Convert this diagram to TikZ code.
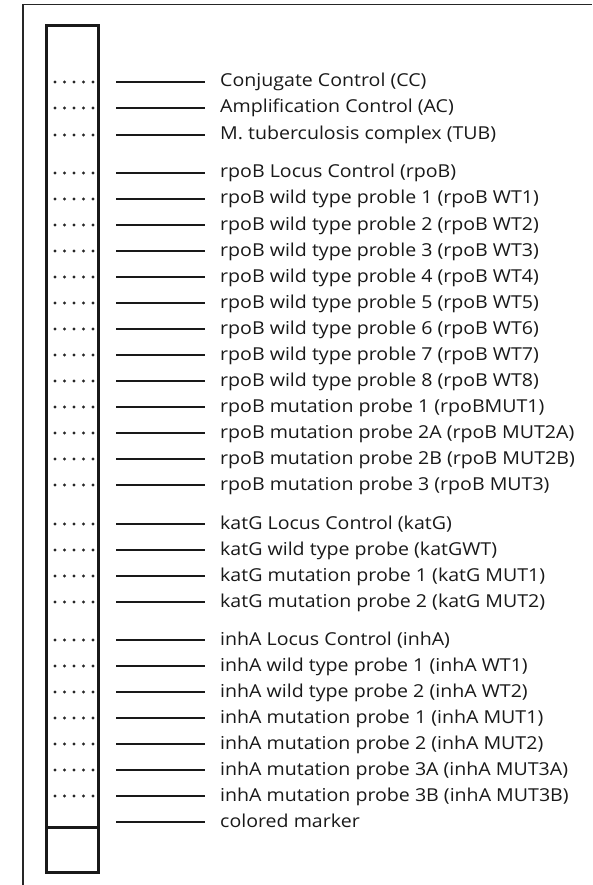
\documentclass[tikz,border=0pt]{standalone}
\usepackage{fontspec}
\setmainfont[FakeStretch=1.1]{Open Sans}
\begin{document}
\begin{tikzpicture}[x=1pt,y=-1pt,
  framestyle/.style={line width=1.2pt,black!85},
  stripbox/.style={line width=3pt,black!90},
  dotrow/.style={line width=3.4pt,black!85,dash pattern=on 0pt off 9.5pt,line cap=round},
  probe/.style={line width=2.3pt,black!90},
  lbl/.style={anchor=base west,inner sep=0pt,font=\fontsize{17.8}{20}\selectfont,text=black!90}]
\useasboundingbox (0,0) rectangle (592,885);
\fill[white] (0,0) rectangle (592,885);
% outer frame (top and left edges)
\draw[framestyle] (23,885) -- (23,4.5) -- (592,4.5);
% strip
\draw[stripbox] (46,26) rectangle (98,872);
\draw[stripbox] (46,827) -- (98,827);
\foreach \yy/\tt [count=\i] in {
 82/{Conjugate Control (CC)},
 108/{Amplification Control (AC)},
 135/{M. tuberculosis complex (TUB)},
 173/{rpoB Locus Control (rpoB)},
 199/{rpoB wild type proble 1 (rpoB WT1)},
 225/{rpoB wild type proble 2 (rpoB WT2)},
 251/{rpoB wild type proble 3 (rpoB WT3)},
 277/{rpoB wild type proble 4 (rpoB WT4)},
 303/{rpoB wild type proble 5 (rpoB WT5)},
 329/{rpoB wild type proble 6 (rpoB WT6)},
 355/{rpoB wild type proble 7 (rpoB WT7)},
 381/{rpoB wild type proble 8 (rpoB WT8)},
 407/{rpoB mutation probe 1 (rpoBMUT1)},
 433/{rpoB mutation probe 2A (rpoB MUT2A)},
 459/{rpoB mutation probe 2B (rpoB MUT2B)},
 485/{rpoB mutation probe 3 (rpoB MUT3)},
 524/{katG Locus Control (katG)},
 550/{katG wild type probe (katGWT)},
 576/{katG mutation probe 1 (katG MUT1)},
 602/{katG mutation probe 2 (katG MUT2)},
 640/{inhA Locus Control (inhA)},
 666/{inhA wild type probe 1 (inhA WT1)},
 692/{inhA wild type probe 2 (inhA WT2)},
 718/{inhA mutation probe 1 (inhA MUT1)},
 744/{inhA mutation probe 2 (inhA MUT2)},
 770/{inhA mutation probe 3A (inhA MUT3A)},
 796/{inhA mutation probe 3B (inhA MUT3B)}} {
  \coordinate (d\i) at (55,\yy);
  \coordinate (e\i) at (95,\yy);
  \draw[dotrow] (d\i) -- (e\i);
  \coordinate (a\i) at (116,\yy);
  \coordinate (b\i) at (205,\yy);
  \draw[probe] (a\i) -- (b\i);
  \node[lbl] (t\i) at (220,\yy+5) {\tt};
}
\coordinate (am) at (116,822);
\coordinate (bm) at (205,822);
\draw[probe] (am) -- (bm);
\node[lbl] (tm) at (220,827) {colored marker};
\end{tikzpicture}
\end{document}
